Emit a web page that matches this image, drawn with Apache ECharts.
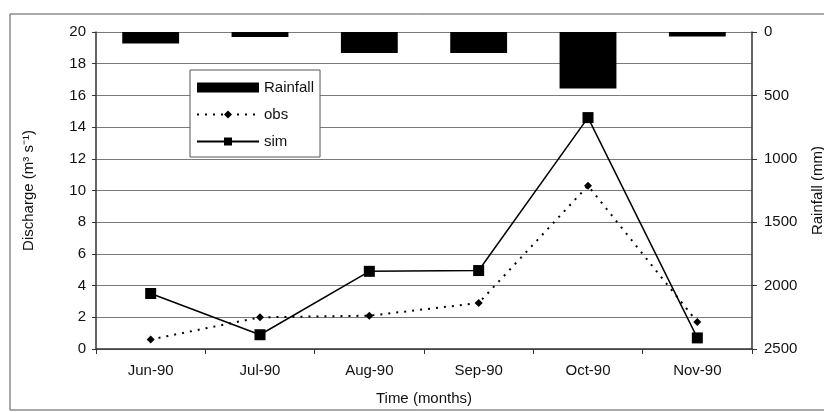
<!DOCTYPE html>
<html>
<head>
<meta charset="utf-8">
<script src="https://cdn.jsdelivr.net/npm/echarts@6/dist/echarts.min.js"></script>
<style>
  html, body { margin: 0; padding: 0; background: #fff; }
  #main { width: 824px; height: 412px; }
</style>
</head>
<body>
<div id="main"></div>
<script>
// months on the x axis
const months = ['Jun-90', 'Jul-90', 'Aug-90', 'Sep-90', 'Oct-90', 'Nov-90'];
// rainfall in mm (right axis, drawn downward from the top)
const rainfall = [90, 40, 165, 165, 445, 35];
// discharge in m3/s
const obs = [0.6, 2.0, 2.1, 2.9, 10.3, 1.7];
const sim = [3.5, 0.9, 4.9, 4.95, 14.6, 0.7];

const font = 'Liberation Sans, Arial, sans-serif';

const chart = echarts.init(document.getElementById('main'));

chart.setOption({
  animation: false,
  textStyle: { fontFamily: font, color: '#111' },
  graphic: [
    {
      type: 'rect',
      shape: { x: 10, y: 14, width: 830, height: 396 },
      style: { fill: 'none', stroke: '#555', lineWidth: 1 }
    }
  ],
  legend: {
    orient: 'vertical',
    left: 190,
    top: 70,
    itemWidth: 62,
    itemHeight: 10,
    itemGap: 12,
    padding: [10, 6, 8, 6],
    borderColor: '#555',
    borderWidth: 1,
    backgroundColor: '#fff',
    textStyle: { fontSize: 15, color: '#111', fontFamily: font },
    data: [
      { name: 'Rainfall', icon: 'rect' },
      { name: 'obs' },
      { name: 'sim' }
    ]
  },
  grid: { left: 96, right: 72, top: 32, bottom: 63, outerBoundsMode: 'none', containLabel: false },
  xAxis: {
    type: 'category',
    data: months,
    boundaryGap: true,
    name: 'Time (months)',
    nameLocation: 'center',
    nameGap: 42,
    nameTextStyle: { fontSize: 15, color: '#111' },
    axisLine: { lineStyle: { color: '#333', width: 1.5 } },
    axisTick: { show: true, alignWithLabel: false, length: 5, lineStyle: { color: '#333' } },
    axisLabel: { fontSize: 15, color: '#111', margin: 14 }
  },
  yAxis: [
    {
      type: 'value',
      min: 0,
      max: 20,
      interval: 2,
      name: 'Discharge (m\u00b3 s\u207b\u00b9)',
      nameLocation: 'center',
      nameGap: 60,
      nameRotate: 90,
      nameTextStyle: { fontSize: 15, color: '#111' },
      axisLine: { show: true, lineStyle: { color: '#333', width: 1.5 } },
      axisTick: { show: true, length: 4, lineStyle: { color: '#333' } },
      axisLabel: { fontSize: 15, color: '#111', margin: 10 },
      splitLine: { show: true, lineStyle: { color: '#7a7a7a', width: 1 } }
    },
    {
      type: 'value',
      min: 0,
      max: 2500,
      interval: 500,
      inverse: true,
      position: 'right',
      name: 'Rainfall (mm)',
      nameLocation: 'center',
      nameGap: 58,
      nameRotate: 90,
      nameTextStyle: { fontSize: 15, color: '#111' },
      axisLine: { show: true, lineStyle: { color: '#333', width: 1.5 } },
      axisTick: { show: true, length: 5, lineStyle: { color: '#333' } },
      axisLabel: { fontSize: 15, color: '#111', margin: 12, formatter: v => String(v) },
      splitLine: { show: false }
    }
  ],
  series: [
    {
      name: 'Rainfall',
      type: 'bar',
      yAxisIndex: 1,
      data: rainfall,
      barWidth: '52%',
      itemStyle: { color: '#000' }
    },
    {
      name: 'obs',
      type: 'line',
      yAxisIndex: 0,
      data: obs,
      symbol: 'diamond',
      symbolSize: 8,
      lineStyle: { color: '#000', width: 2, type: [2, 6] },
      itemStyle: { color: '#000' }
    },
    {
      name: 'sim',
      type: 'line',
      yAxisIndex: 0,
      data: sim,
      symbol: 'rect',
      symbolSize: 11,
      lineStyle: { color: '#000', width: 1.5, type: 'solid' },
      itemStyle: { color: '#000' }
    }
  ]
});
</script>
</body>
</html>
